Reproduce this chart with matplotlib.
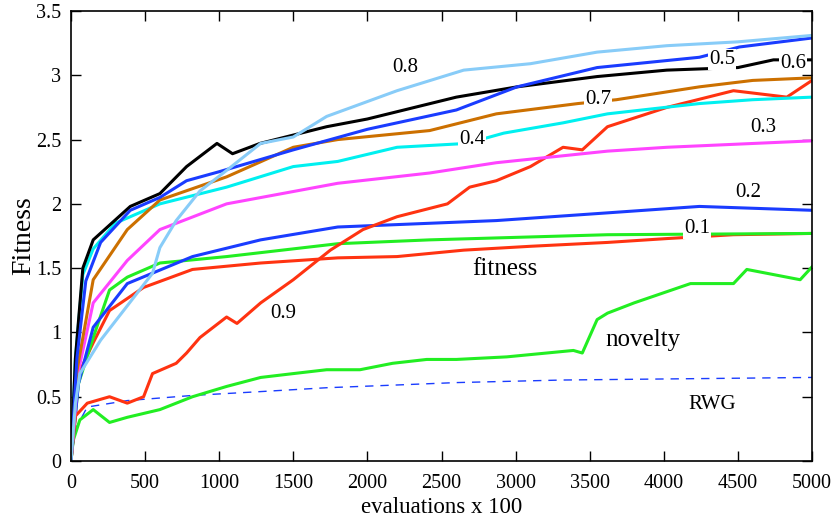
import matplotlib

matplotlib.use("Agg")
import matplotlib.pyplot as plt

plt.rcParams["font.family"] = ["Liberation Serif", "DejaVu Serif"]

# values (evaluations x 100 -> fitness)
x_08 = [0, 30, 60, 200, 550, 600, 710, 870, 1050, 1280, 1500, 1725, 2200, 2650, 3100, 3550, 4020, 4500, 5000]
y_08 = [0, 0.45, 0.68, 0.94, 1.46, 1.66, 1.87, 2.10, 2.26, 2.47, 2.52, 2.68, 2.88, 3.04, 3.09, 3.18, 3.23, 3.26, 3.31]

x_05 = [0, 40, 100, 200, 400, 600, 780, 1000, 1500, 1750, 2000, 2600, 3010, 3550, 4240, 4510, 5000]
y_05 = [0, 0.8, 1.4, 1.7, 1.95, 2.05, 2.18, 2.25, 2.42, 2.5, 2.58, 2.73, 2.91, 3.06, 3.14, 3.22, 3.29]

x_06 = [0, 30, 80, 150, 400, 600, 780, 985, 1090, 1275, 1725, 2000, 2600, 3010, 3550, 4020, 4500, 4740, 5000]
y_06 = [0, 0.8, 1.5, 1.72, 1.98, 2.08, 2.29, 2.47, 2.39, 2.47, 2.6, 2.66, 2.83, 2.91, 2.99, 3.04, 3.06, 3.12, 3.12]

x_07 = [0, 40, 150, 380, 600, 1050, 1500, 1800, 2420, 2870, 3420, 3680, 4240, 4600, 5000]
y_07 = [0, 0.7, 1.41, 1.8, 2.03, 2.21, 2.44, 2.5, 2.57, 2.7, 2.78, 2.81, 2.91, 2.96, 2.98]

x_04 = [0, 30, 80, 150, 300, 600, 1050, 1500, 1800, 2200, 2670, 2920, 3320, 3620, 4240, 4600, 5000]
y_04 = [0, 0.8, 1.45, 1.65, 1.85, 2.0, 2.13, 2.29, 2.33, 2.44, 2.47, 2.55, 2.63, 2.7, 2.78, 2.81, 2.83]

x_03 = [0, 50, 150, 380, 600, 1050, 1800, 2420, 2870, 3620, 4020, 5000]
y_03 = [0, 0.7, 1.23, 1.56, 1.8, 2.0, 2.16, 2.24, 2.32, 2.41, 2.44, 2.49]

x_02 = [0, 50, 150, 380, 820, 1280, 1800, 2870, 3620, 4240, 5000]
y_02 = [0, 0.6, 1.04, 1.38, 1.59, 1.72, 1.82, 1.87, 1.93, 1.98, 1.95]

x_01 = [0, 50, 150, 260, 380, 600, 1050, 1800, 2420, 3620, 5000]
y_01 = [0, 0.6, 0.96, 1.33, 1.43, 1.54, 1.59, 1.69, 1.72, 1.76, 1.77]

x_fit = [0, 40, 150, 260, 490, 820, 1280, 1800, 2200, 2650, 3100, 3620, 4020, 4470, 5000]
y_fit = [0, 0.65, 0.92, 1.17, 1.35, 1.49, 1.54, 1.58, 1.59, 1.64, 1.67, 1.7, 1.73, 1.76, 1.77]

x_09 = [0, 30, 110, 260, 380, 490, 550, 710, 780, 870, 1050, 1120, 1280, 1500, 1750, 1970, 2200,
        2540, 2690, 2870, 3100, 3320, 3450, 3620, 4020, 4470, 4830, 5000]
y_09 = [0, 0.35, 0.45, 0.5, 0.45, 0.5, 0.68, 0.76, 0.84, 0.96, 1.12, 1.07, 1.23, 1.41, 1.64, 1.8, 1.9,
        2.0, 2.13, 2.18, 2.29, 2.44, 2.42, 2.6, 2.75, 2.88, 2.83, 2.96]

x_nov = [0, 15, 60, 150, 260, 380, 600, 820, 1050, 1280, 1500, 1725, 1950, 2170, 2400, 2600, 2940,
         3390, 3450, 3550, 3620, 3800, 4180, 4470, 4560, 4920, 5000]
y_nov = [0, 0.16, 0.32, 0.4, 0.3, 0.34, 0.4, 0.5, 0.58, 0.65, 0.68, 0.71, 0.71, 0.76, 0.79, 0.79, 0.81,
         0.86, 0.84, 1.1, 1.15, 1.23, 1.38, 1.38, 1.49, 1.41, 1.51]

x_rwg = [0, 30, 110, 380, 820, 1280, 1725, 2170, 2600, 3320, 5000]
y_rwg = [0, 0.25, 0.42, 0.47, 0.51, 0.54, 0.57, 0.59, 0.61, 0.63, 0.65]

fig = plt.figure(figsize=(8.4, 5.23), dpi=100)
ax = fig.add_axes([0.0845, 0.1185, 0.8822, 0.8605])

blue = "#1a3cff"
lw = 2.2
ax.plot(x_rwg, y_rwg, "--", color=blue, linewidth=1.0, dashes=(6, 5))
ax.plot(x_nov, y_nov, "-", color="#22ee22", linewidth=lw)
ax.plot(x_fit, y_fit, "-", color="#ff3311", linewidth=lw)
ax.plot(x_01, y_01, "-", color="#22ee22", linewidth=lw)
ax.plot(x_02, y_02, "-", color=blue, linewidth=lw)
ax.plot(x_09, y_09, "-", color="#ff3311", linewidth=lw)
ax.plot(x_03, y_03, "-", color="#ff44ff", linewidth=lw)
ax.plot(x_04, y_04, "-", color="#00f0f0", linewidth=lw)
ax.plot(x_07, y_07, "-", color="#cc7000", linewidth=lw)
ax.plot(x_06, y_06, "-", color="black", linewidth=lw)
ax.plot(x_05, y_05, "-", color=blue, linewidth=lw)
ax.plot(x_08, y_08, "-", color="#88ccf8", linewidth=lw)

# curve labels
labels = [("0.8", 2254, 3.06), ("0.5", 4393, 3.12), ("0.6", 4872, 3.09),
          ("0.7", 3556, 2.81), ("0.4", 2706, 2.50), ("0.3", 4669, 2.59),
          ("0.2", 4568, 2.09), ("0.1", 4224, 1.81), ("fitness", 2928, 1.49),
          ("0.9", 1430, 1.15), ("novelty", 3860, 0.94), ("RWG", 4325, 0.44)]
for txt, lx, ly in labels:
    size = 18 if txt in ("fitness", "novelty") else 15
    ax.text(lx, ly, txt, fontsize=size, ha="center", va="center", zorder=5,
            bbox=dict(boxstyle="square,pad=0.05", facecolor="white", edgecolor="none"))

ax.set_xlim(0, 5000)
ax.set_ylim(0, 3.5)
ax.set_xticks(range(0, 5001, 500))
ax.set_yticks([0, 0.5, 1, 1.5, 2, 2.5, 3, 3.5])
ax.set_yticklabels(["0", "0.5", "1", "1.5", "2", "2.5", "3", "3.5"])
ax.tick_params(direction="in", top=True, right=True, length=7, width=1, labelsize=14.5)
ax.tick_params(axis="x", pad=9)
ax.tick_params(axis="y", pad=7)
for sp in ax.spines.values():
    sp.set_linewidth(1.2)
ax.set_xlabel("evaluations x 100", fontsize=16.5, labelpad=3)
ax.set_ylabel("Fitness", fontsize=20, labelpad=0)

fig.savefig("out.png", dpi=100)
